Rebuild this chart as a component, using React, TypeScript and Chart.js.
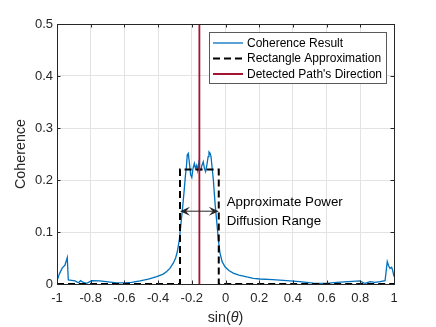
import React, { useEffect, useRef } from "react";
import { Chart, registerables } from "chart.js";
Chart.register(...registerables);

// ---- data ----
const sinTheta = [
  -1, -0.985, -0.97, -0.963, -0.953, -0.939, -0.933, -0.913, -0.893, -0.873, -0.86, -0.844, -0.824,
  -0.794, -0.745, -0.696, -0.646, -0.6, -0.557, -0.507, -0.458, -0.408, -0.37, -0.349, -0.33, -0.31,
  -0.296, -0.286, -0.274, -0.264, -0.254, -0.245, -0.238, -0.232, -0.227, -0.221, -0.214, -0.207,
  -0.2, -0.193, -0.185, -0.178, -0.171, -0.165, -0.159, -0.153, -0.147, -0.14, -0.132, -0.125,
  -0.118, -0.11, -0.103, -0.098, -0.092, -0.086, -0.079, -0.072, -0.062, -0.052, -0.043, -0.033,
  -0.02, -0.003, 0.02, 0.046, 0.08, 0.126, 0.165, 0.205, 0.28, 0.363, 0.44, 0.521, 0.6, 0.66, 0.73,
  0.798, 0.828, 0.858, 0.887, 0.917, 0.947, 0.96, 0.968, 0.976, 0.986, 0.993, 1.0,
];
const coherence = [
  0.006, 0.02, 0.03, 0.033, 0.036, 0.051, 0.008, 0.007, 0.006, 0.0025, 0.0064, 0.003, 0.0013,
  0.0064, 0.006, 0.004, 0.002, 0.002, 0.003, 0.006, 0.0095, 0.014, 0.019, 0.024, 0.03, 0.04,
  0.05, 0.062, 0.085, 0.117, 0.149, 0.181, 0.208, 0.225, 0.248, 0.251, 0.232, 0.21,
  0.205, 0.222, 0.232, 0.222, 0.228, 0.218, 0.232, 0.22, 0.219, 0.228, 0.235, 0.222,
  0.216, 0.23, 0.245, 0.254, 0.252, 0.245, 0.222, 0.2, 0.155, 0.12, 0.087, 0.06,
  0.043, 0.033, 0.026, 0.021, 0.017, 0.0135, 0.011, 0.0096, 0.0085, 0.0065, 0.0045, 0.0015, 0.0013, 0.003, 0.0045,
  0.006, 0.001, 0.0045, 0.003, 0.0045, 0.0064, 0.043, 0.035, 0.03, 0.032, 0.025, 0.014,
];
const rectLeft = -0.27;
const rectRight = -0.04;
const rectHeight = 0.22;
const pathDirection = -0.155;
const arrowLevel = 0.14;

const xTicks = [-1, -0.8, -0.6, -0.4, -0.2, 0, 0.2, 0.4, 0.6, 0.8, 1];
const xTickLabels = ["-1", "-0.8", "-0.6", "-0.4", "-0.2", "0", "0.2", "0.4", "0.6", "0.8", "1"];
const yTicks = [0, 0.1, 0.2, 0.3, 0.4, 0.5];
const yTickLabels = ["0", "0.1", "0.2", "0.3", "0.4", "0.5"];
const legendLabels = ["Coherence Result", "Rectangle Approximation", "Detected Path's Direction"];
const annotationLines = ["Approximate Power", "Diffusion Range"];
const yTitle = "Coherence";

const BLUE = "#0072BD";
const RED = "#A2142F";
const AX = "#262626";
const FONT = "'Liberation Sans', Arial, Helvetica, sans-serif";

const decor = {
  id: "decor",
  afterDatasetsDraw(chart: any) {
    const ctx = chart.ctx as CanvasRenderingContext2D;
    const { left, right, top, bottom } = chart.chartArea;
    const xs = chart.scales.x;
    const ys = chart.scales.y;
    ctx.save();
    // box
    ctx.strokeStyle = AX;
    ctx.lineWidth = 1;
    ctx.strokeRect(Math.round(left) + 0.5, Math.round(top) + 0.5, Math.round(right - left), Math.round(bottom - top));
    // inner ticks
    const tl = 3.5;
    ctx.beginPath();
    xTicks.forEach((v) => {
      const px = Math.round(xs.getPixelForValue(v)) + 0.5;
      ctx.moveTo(px, bottom); ctx.lineTo(px, bottom - tl);
      ctx.moveTo(px, top); ctx.lineTo(px, top + tl);
    });
    yTicks.forEach((v) => {
      const py = Math.round(ys.getPixelForValue(v)) + 0.5;
      ctx.moveTo(left, py); ctx.lineTo(left + tl, py);
      ctx.moveTo(right, py); ctx.lineTo(right - tl, py);
    });
    ctx.stroke();

    // arrow
    const ay = ys.getPixelForValue(arrowLevel);
    const ax1 = xs.getPixelForValue(rectLeft);
    const ax2 = xs.getPixelForValue(rectRight);
    ctx.strokeStyle = AX;
    ctx.fillStyle = AX;
    ctx.lineWidth = 1;
    ctx.beginPath();
    ctx.moveTo(ax1 + 4, ay); ctx.lineTo(ax2 - 4, ay);
    ctx.stroke();
    const head = (tipX: number, dir: number) => {
      const L = 10, W = 4.5, notch = 6;
      ctx.beginPath();
      ctx.moveTo(tipX, ay);
      ctx.lineTo(tipX + dir * L, ay - W);
      ctx.lineTo(tipX + dir * notch, ay);
      ctx.lineTo(tipX + dir * L, ay + W);
      ctx.closePath();
      ctx.fill();
    };
    head(ax1, 1);
    head(ax2, -1);

    // annotation text
    ctx.fillStyle = "#000";
    ctx.font = `13.3px ${FONT}`;
    ctx.textAlign = "left";
    ctx.textBaseline = "middle";
    const tx = xs.getPixelForValue(0.007);
    ctx.fillText(annotationLines[0], tx, ys.getPixelForValue(0.158));
    ctx.fillText(annotationLines[1], tx, ys.getPixelForValue(0.121));

    // legend
    const lx = 209.5, ly = 32.5, lw = 177, lh = 51;
    ctx.fillStyle = "#fff";
    ctx.fillRect(lx, ly, lw, lh);
    ctx.strokeStyle = "#5a5a5a";
    ctx.lineWidth = 1;
    ctx.strokeRect(lx, ly, lw, lh);
    const rows = [43, 58.5, 74];
    const styles = [
      { c: BLUE, w: 1.3, d: [] as number[] },
      { c: "#000", w: 2, d: [7, 4] },
      { c: RED, w: 2, d: [] as number[] },
    ];
    rows.forEach((ry, i) => {
      ctx.beginPath();
      ctx.strokeStyle = styles[i].c;
      ctx.lineWidth = styles[i].w;
      ctx.setLineDash(styles[i].d);
      ctx.moveTo(213, ry); ctx.lineTo(243, ry);
      ctx.stroke();
      ctx.setLineDash([]);
      ctx.fillStyle = "#000";
      ctx.font = `12px ${FONT}`;
      ctx.textAlign = "left";
      ctx.textBaseline = "middle";
      ctx.fillText(legendLabels[i], 247, ry + 0.5);
    });

    // y title
    ctx.fillStyle = AX;
    ctx.font = `14.3px ${FONT}`;
    ctx.save();
    ctx.translate(21, (top + bottom) / 2);
    ctx.rotate(-Math.PI / 2);
    ctx.textAlign = "center";
    ctx.textBaseline = "middle";
    ctx.fillText(yTitle, 0, 0);
    ctx.restore();

    // x title sin(θ)
    const parts = [
      { t: "sin(", f: `14.3px ${FONT}` },
      { t: "θ", f: `italic 14.3px ${FONT}` },
      { t: ")", f: `14.3px ${FONT}` },
    ];
    let total = 0;
    parts.forEach((p) => { ctx.font = p.f; total += ctx.measureText(p.t).width; });
    let cx = (left + right) / 2 - total / 2;
    ctx.textAlign = "left";
    ctx.textBaseline = "middle";
    parts.forEach((p) => { ctx.font = p.f; ctx.fillText(p.t, cx, 318); cx += ctx.measureText(p.t).width; });
    ctx.restore();
  },
};

export default function App() {
  const ref = useRef<HTMLCanvasElement>(null);
  useEffect(() => {
    const curve = sinTheta.map((x, i) => ({ x, y: coherence[i] }));
    const rect = [
      { x: -1, y: 0 }, { x: rectLeft, y: 0 }, { x: rectLeft, y: rectHeight },
      { x: rectRight, y: rectHeight }, { x: rectRight, y: 0 }, { x: 1, y: 0 },
    ];
    const redLine = [{ x: pathDirection, y: 0 }, { x: pathDirection, y: 0.5 }];
    const chart = new Chart(ref.current!, {
      type: "line",
      data: {
        datasets: [
          { label: legendLabels[0], data: curve, borderColor: BLUE, borderWidth: 1.3, pointRadius: 0, tension: 0, order: 3 },
          { label: legendLabels[1], data: rect, borderColor: "#000", borderWidth: 2, borderDash: [7, 4], pointRadius: 0, tension: 0, order: 2 },
          { label: legendLabels[2], data: redLine, borderColor: RED, borderWidth: 1.8, pointRadius: 0, tension: 0, order: 1 },
        ],
      },
      options: {
        responsive: false,
        animation: false,
        layout: { padding: { left: 0, right: 42, top: 24, bottom: 0 } },
        plugins: { legend: { display: false }, tooltip: { enabled: false } },
        scales: {
          x: {
            type: "linear",
            min: -1,
            max: 1,
            afterBuildTicks: (s: any) => { s.ticks = xTicks.map((v) => ({ value: v })); },
            afterFit: (s: any) => { s.height = 43; },
            grid: { color: "#e3e3e3", drawTicks: false, lineWidth: 1 },
            border: { display: false },
            ticks: {
              padding: 7,
              color: AX,
              font: { family: FONT, size: 13 },
              maxRotation: 0,
              autoSkip: false,
              callback: (_v: any, i: number) => xTickLabels[i],
            },
          },
          y: {
            type: "linear",
            min: 0,
            max: 0.5,
            afterBuildTicks: (s: any) => { s.ticks = yTicks.map((v) => ({ value: v })); },
            afterFit: (s: any) => { s.width = 57; },
            grid: { color: "#e3e3e3", drawTicks: false, lineWidth: 1 },
            border: { display: false },
            ticks: {
              padding: 4,
              color: AX,
              font: { family: FONT, size: 13 },
              autoSkip: false,
              callback: (_v: any, i: number) => yTickLabels[i],
            },
          },
        },
      },
      plugins: [decor],
    } as any);
    return () => chart.destroy();
  }, []);
  return (
    <div style={{ position: "fixed", left: 0, top: 0, width: 436, height: 327, background: "#fff" }}>
      <canvas ref={ref} width={436} height={327} style={{ width: 436, height: 327 }} />
    </div>
  );
}
